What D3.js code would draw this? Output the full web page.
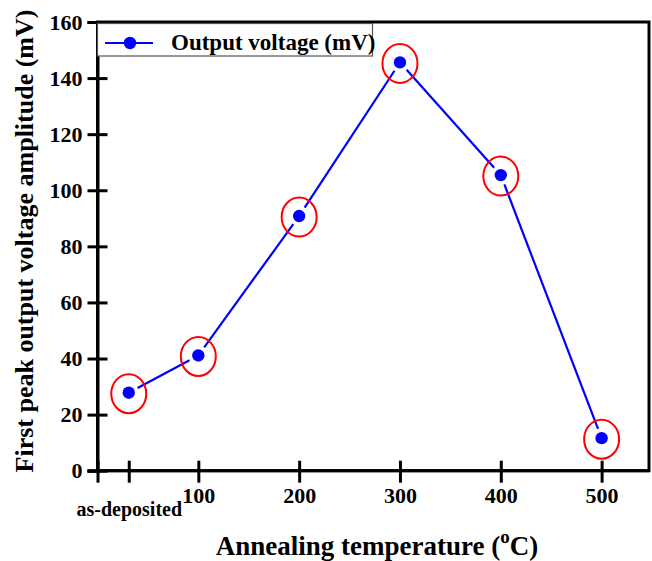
<!DOCTYPE html>
<html>
<head>
<meta charset="utf-8">
<script src="https://cdn.jsdelivr.net/npm/d3@7/dist/d3.min.js"></script>
<style>
  html, body { margin: 0; padding: 0; background: #fff; }
  svg { display: block; }
  text { font-family: "Liberation Serif", "Times New Roman", serif; font-weight: bold; fill: #000; }
</style>
</head>
<body>
<script>
// ---- data ----
const categories = ["as-deposited", "100", "200", "300", "400", "500"];
const xPositions = [31, 100, 200, 300, 400, 500];
const outputVoltage = [27.8, 41.1, 90.8, 145.6, 105.4, 11.6];
const yTicks = [0, 20, 40, 60, 80, 100, 120, 140, 160];
const xTicks = [0, 31, 100, 200, 300, 400, 500];
const xTickLabels = ["", "as-deposited", "100", "200", "300", "400", "500"];
const seriesName = "Output voltage (mV)";

const W = 652, H = 561;
const svg = d3.select("body").append("svg").attr("width", W).attr("height", H);

const x = d3.scaleLinear().domain([0, 547]).range([97.5, 649]);
const y = d3.scaleLinear().domain([0, 160]).range([470.7, 22]);

// frame
svg.append("rect")
  .attr("x", x(0)).attr("y", y(160))
  .attr("width", x(547) - x(0)).attr("height", y(0) - y(160))
  .attr("fill", "none").attr("stroke", "#000").attr("stroke-width", 3);

// y axis
const yAxis = svg.append("g")
  .attr("transform", `translate(${x(0)},0)`)
  .call(d3.axisLeft(y).tickValues(yTicks).tickSize(10).tickPadding(5).tickFormat(d3.format("d")));
yAxis.select(".domain").attr("stroke-width", 3);
yAxis.selectAll(".tick line").attr("x1", 10).attr("stroke-width", 3);
yAxis.selectAll(".tick text").attr("font-size", 22).attr("x", -15).attr("dy", "0.33em");

// x axis
const xAxis = svg.append("g")
  .attr("transform", `translate(0,${y(0)})`)
  .call(d3.axisBottom(x).tickValues(xTicks).tickSize(12).tickFormat((d, i) => xTickLabels[i]));
xAxis.select(".domain").remove();
xAxis.selectAll(".tick line").attr("y1", -10).attr("stroke-width", 3);
xAxis.selectAll(".tick text")
  .attr("font-size", d => d === 31 ? 20 : 22)
  .attr("y", d => d === 31 ? 45.5 : 32.5)
  .attr("dy", 0);
svg.append("line")
  .attr("x1", x(0) - 10).attr("x2", x(547))
  .attr("y1", y(0)).attr("y2", y(0))
  .attr("stroke", "#000").attr("stroke-width", 3);

// axis titles
const xt = svg.append("text")
  .attr("x", 377).attr("y", 555)
  .attr("text-anchor", "middle").attr("font-size", 27);
xt.append("tspan").text("Annealing temperature (");
xt.append("tspan").text("o").attr("font-size", 19).attr("dy", -12);
xt.append("tspan").text("C)").attr("dy", 12);

svg.append("text")
  .attr("transform", "translate(33,241) rotate(-90)")
  .attr("text-anchor", "middle").attr("font-size", 26)
  .text("First peak output voltage amplitude (mV)");

// data
const pts = xPositions.map((xp, i) => ({ x: x(xp), y: y(outputVoltage[i]) }));

// line segments with gaps around markers
const gap = 10;
const segs = d3.pairs(pts).map(([a, b]) => {
  const dx = b.x - a.x, dy = b.y - a.y, L = Math.hypot(dx, dy);
  const ux = dx / L, uy = dy / L;
  return { x1: a.x + ux * gap, y1: a.y + uy * gap, x2: b.x - ux * gap, y2: b.y - uy * gap };
});
svg.append("g").selectAll("line").data(segs).join("line")
  .attr("x1", d => d.x1).attr("y1", d => d.y1)
  .attr("x2", d => d.x2).attr("y2", d => d.y2)
  .attr("stroke", "#0000ff").attr("stroke-width", 2.2);

svg.append("g").selectAll("circle").data(pts).join("circle")
  .attr("cx", d => d.x).attr("cy", d => d.y).attr("r", 6.2)
  .attr("fill", "#0000ff");

svg.append("g").selectAll("ellipse").data(pts).join("ellipse")
  .attr("cx", d => d.x).attr("cy", d => d.y + 1)
  .attr("rx", 17.5).attr("ry", 19.5)
  .attr("fill", "none").attr("stroke", "#ff0000").attr("stroke-width", 2);

// legend
const lg = svg.append("g");
lg.append("rect")
  .attr("x", 97.5).attr("y", 23.5).attr("width", 275).attr("height", 32.5)
  .attr("fill", "#fff").attr("stroke", "#555").attr("stroke-width", 1.2);
lg.append("line")
  .attr("x1", 105).attr("x2", 153).attr("y1", 43).attr("y2", 43)
  .attr("stroke", "#0000ff").attr("stroke-width", 2.2);
lg.append("circle").attr("cx", 130).attr("cy", 43).attr("r", 6.2).attr("fill", "#0000ff");
lg.append("text").attr("x", 171).attr("y", 50).attr("font-size", 23).text(seriesName);
</script>
</body>
</html>
